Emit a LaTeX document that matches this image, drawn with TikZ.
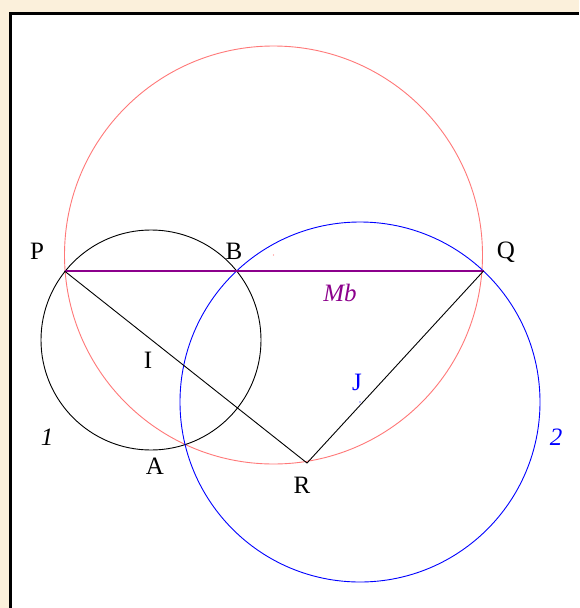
\documentclass[tikz,border=0pt]{standalone}
\usepackage{fontspec}
\setmainfont{Liberation Serif}
\usepackage{tikz}
\usetikzlibrary{positioning}
\definecolor{figpaper}{RGB}{251,240,219}
\definecolor{figred}{RGB}{255,120,120}
\definecolor{figblue}{RGB}{0,0,255}
\definecolor{figpurple}{RGB}{140,0,140}
\tikzset{
  figlabel/.style={inner sep=0pt, font=\fontsize{25}{27}\selectfont},
  figcircle/.style={line width=0.9pt},
  figline/.style={line width=0.9pt},
  figdot/.style={inner sep=0pt, minimum size=1.2pt, circle, fill},
}

\begin{document}
\begin{tikzpicture}[x=1pt, y=-1pt]
  \useasboundingbox (0,0) rectangle (579,608);
  \fill[figpaper] (0,0) rectangle (579,608);
  \fill[white] (10.5,13.5) rectangle (579,608);
  \draw[black, line width=3pt] (10.5,608) -- (10.5,13.5) -- (579,13.5);
  % points
  \coordinate (P) at (64.5,271);
  \coordinate (Q) at (483.5,271);
  \coordinate (R) at (307,463);
  \node[figdot, figred] (Mc) at (273.5,255) {};
  \node[figdot, figblue] (Jc) at (360,402) {};
  % circles
  \draw[figcircle, figred] (Mc) circle (209);
  \draw[figcircle, black] (151,340) circle (110);
  \draw[figcircle, figblue] (Jc) circle (180);
  % segments
  \draw[figline, color=figpurple, line width=1.1pt] (P) -- (Q);
  \draw[figline, color=black] (P) -- (R) -- (Q);
  % labels
  \node[figlabel] (Plab) at (37,251) {P};
  \node[figlabel] (Blab) at (234,251) {B};
  \node[figlabel] (Qlab) at (506,252) {Q};
  \node[figlabel] (Ilab) at (148,360) {I};
  \node[figlabel, figblue] (Jlab) at (357,382) {J};
  \node[figlabel] (Alab) at (155,466) {A};
  \node[figlabel] (Rlab) at (302,485) {R};
  \node[figlabel, figpurple] (Mblab) at (340,293) {\itshape Mb};
  \node[figlabel] (onelab) at (47,437) {\itshape 1};
  \node[figlabel, figblue] (twolab) at (556,437) {\itshape 2};
\end{tikzpicture}
\end{document}
